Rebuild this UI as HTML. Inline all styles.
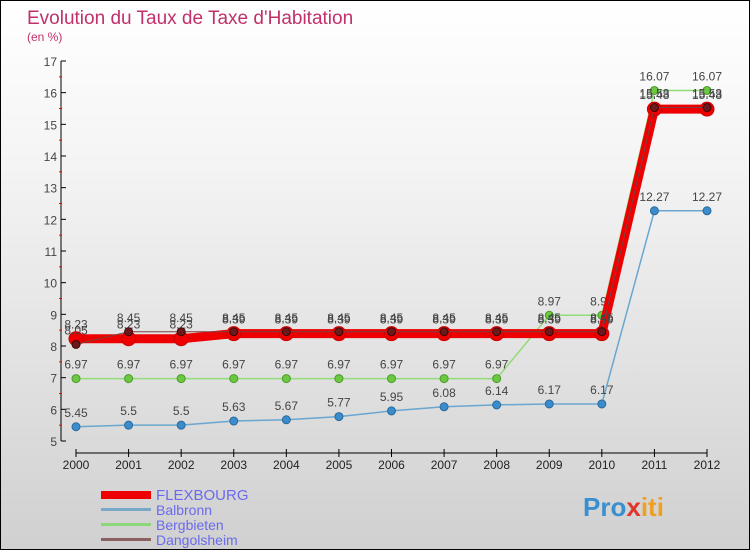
<!DOCTYPE html>
<html><head><meta charset="utf-8"><style>
body{margin:0}
#c{width:748px;height:548px;border:1px solid #000;background:linear-gradient(#ffffff,#f4f4f4 30%,#d0d0d0);position:relative;font-family:"Liberation Sans",sans-serif;overflow:hidden}
</style></head><body>
<div id="c">
<svg id="s" width="748" height="548" xmlns="http://www.w3.org/2000/svg">
<text x="26" y="23" font-size="19" fill="#c0306a">Evolution du Taux de Taxe d'Habitation</text>
<text x="26" y="40" font-size="12" fill="#c0306a">(en %)</text>
<g id="g"></g>
<g>
<rect x="100" y="490" width="50" height="8" fill="#e00"/>
<text x="155" y="499" font-size="15" fill="#6a6aee">FLEXBOURG</text>
<rect x="100" y="507" width="50" height="3" fill="#7aa8c8"/>
<text x="155" y="514" font-size="14" fill="#6a6aee">Balbronn</text>
<rect x="100" y="522" width="50" height="3" fill="#8ed67a"/>
<text x="155" y="529" font-size="14" fill="#6a6aee">Bergbieten</text>
<rect x="100" y="537" width="50" height="3" fill="#8a6060"/>
<text x="155" y="544" font-size="14" fill="#6a6aee">Dangolsheim</text>
</g>
<text x="582" y="515" font-size="26" font-weight="bold" fill="#3a8fd0">Pro<tspan fill="#e0352b">x</tspan><tspan fill="#f0a020">iti</tspan></text>
</svg>
</div>
<script>
const years=[2000,2001,2002,2003,2004,2005,2006,2007,2008,2009,2010,2011,2012];
const flexbourg=[8.23,8.23,8.23,8.39,8.39,8.39,8.39,8.39,8.39,8.39,8.39,15.48,15.48];
const balbronn=[5.45,5.5,5.5,5.63,5.67,5.77,5.95,6.08,6.14,6.17,6.17,12.27,12.27];
const bergbieten=[6.97,6.97,6.97,6.97,6.97,6.97,6.97,6.97,6.97,8.97,8.97,16.07,16.07];
const dangolsheim=[8.05,8.45,8.45,8.45,8.45,8.45,8.45,8.45,8.45,8.45,8.45,15.53,15.53];
const yTicks=[5,6,7,8,9,10,11,12,13,14,15,16,17];
const NS="http://www.w3.org/2000/svg";
const g=document.getElementById('g');
const X=i=>75+i*(706-75)/(years.length-1);
const Y=v=>440-(v-5)*(380/12);
function el(t,a,p){const e=document.createElementNS(NS,t);for(const k in a)e.setAttribute(k,a[k]);(p||g).appendChild(e);return e;}
// axes
let a=el('line',{x1:60,y1:60,x2:60,y2:440,stroke:'#000'});


a=el('line',{x1:75,y1:452,x2:706,y2:452,stroke:'#000'});


yTicks.forEach(v=>{
 let t=el('line',{x1:60,y1:Y(v),x2:65,y2:Y(v),stroke:'#000'});
 
 
 if(v<17){let m=el('line',{x1:58,y1:Y(v+0.5),x2:61,y2:Y(v+0.5),stroke:'#f00'});
 
 }
 let l=el('text',{x:56,y:Y(v)+5,'font-size':12,'text-anchor':'end',fill:'#444'});l.textContent=v;
 
 
});
years.forEach((yr,i)=>{
 let t=el('line',{x1:X(i),y1:448,x2:X(i),y2:456,stroke:'#000'});
 
 
 let l=el('text',{x:X(i),y:468,'font-size':12,'text-anchor':'middle',fill:'#222'});l.textContent=yr;
 
 
});
function series(name,data,color,w,r,fill,stroke){
 const sg=el('g',{});
 
 
 let p=el('polyline',{points:data.map((v,i)=>X(i)+','+Y(v)).join(' '),fill:'none',stroke:color,'stroke-width':w,'stroke-linejoin':'round'},sg);
 
 
 data.forEach((v,i)=>{
  let c=el('circle',{cx:X(i),cy:Y(v),r:r,fill:fill,stroke:stroke,'stroke-width':1},sg);
  
  
  let t=el('text',{x:X(i),y:Y(v)-10,'font-size':12,'text-anchor':'middle',fill:'#444'},sg);t.textContent=v;
  
  
 });
}
series('balbronn',balbronn,'#6aa6d0',1.5,4,'#3a8ccc','#2a6a9a');
series('bergbieten',bergbieten,'#90dc78',1.5,4,'#6cc840','#4a9a2a');
series('flexbourg',flexbourg,'#ee0000',9,7,'#ee0000','#c00');
series('dangolsheim',dangolsheim,'#7a4040',1,4,'#6a1a1a','#400');
</script>
</body></html>
